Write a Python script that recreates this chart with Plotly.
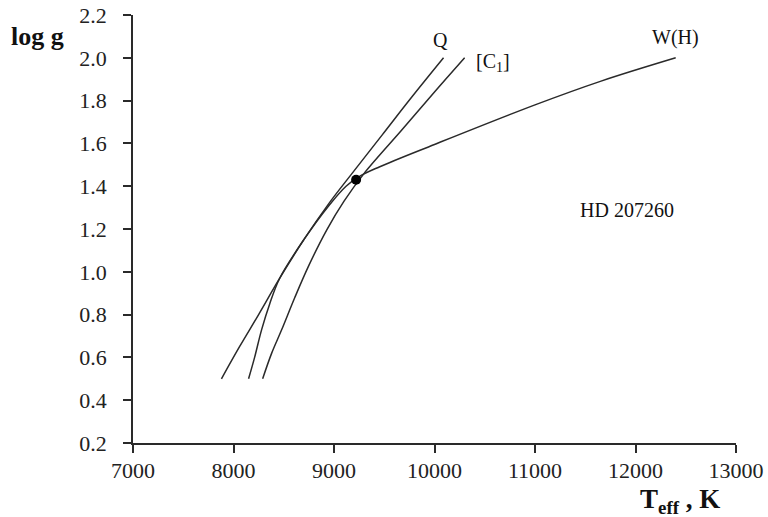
import plotly.graph_objects as go

# Q locus
q_teff = [7880, 8060, 8250, 8460, 8700, 8950, 9180, 9480, 9780, 10090]
q_logg = [0.50, 0.65, 0.80, 0.97, 1.15, 1.32, 1.46, 1.64, 1.82, 2.00]
# [c1] locus
c1_teff = [8290, 8380, 8480, 8610, 8750, 8927, 9100, 9300, 9670, 10000, 10300]
c1_logg = [0.50, 0.62, 0.73, 0.88, 1.03, 1.195, 1.33, 1.46, 1.66, 1.84, 2.00]
# W(H) locus
wh_teff = [8150, 8210, 8280, 8360, 8460, 8700, 8950, 9120, 9250, 9450, 10000, 11000, 11650, 12400]
wh_logg = [0.50, 0.60, 0.73, 0.85, 0.97, 1.15, 1.31, 1.40, 1.445, 1.49, 1.595, 1.78, 1.89, 2.00]
# solution point
dot_teff = [9220]
dot_logg = [1.43]

x_ticks = [7000, 8000, 9000, 10000, 11000, 12000, 13000]
y_ticks = [0.2, 0.4, 0.6, 0.8, 1.0, 1.2, 1.4, 1.6, 1.8, 2.0, 2.2]

LC = "#2a2a2a"
SERIF = "Liberation Serif, Times New Roman, serif"

fig = go.Figure()
for tx, gy in [(q_teff, q_logg), (c1_teff, c1_logg), (wh_teff, wh_logg)]:
    fig.add_trace(go.Scatter(x=tx, y=gy, mode="lines",
                             line=dict(color=LC, width=1.5, shape="spline", smoothing=1.0),
                             showlegend=False, hoverinfo="skip"))
fig.add_trace(go.Scatter(x=dot_teff, y=dot_logg, mode="markers",
                         marker=dict(color="black", size=10), showlegend=False))

ann_font = dict(family=SERIF, size=20, color="#111")
fig.add_annotation(x=10055, y=2.083, text="Q", showarrow=False, font=ann_font)
fig.add_annotation(x=10580, y=1.976, text="[C<sub>1</sub>]", showarrow=False, font=ann_font)
fig.add_annotation(x=12393, y=2.097, text="W(H)", showarrow=False, font=ann_font)
fig.add_annotation(x=11912, y=1.289, text="HD 207260", showarrow=False, font=ann_font)

fig.add_annotation(xref="paper", yref="paper", x=-0.159, y=0.949,
                   xanchor="center", yanchor="middle",
                   text="<b>log g</b>", showarrow=False,
                   font=dict(family=SERIF, size=26, color="#111"))
fig.add_annotation(xref="paper", yref="paper", x=0.907, y=-0.135,
                   xanchor="center", yanchor="middle",
                   text="<b>T<sub>eff</sub> , K</b>", showarrow=False,
                   font=dict(family=SERIF, size=27, color="#111"))

fig.update_layout(
    width=768, height=517,
    margin=dict(l=133, r=32, t=15, b=74, autoexpand=False),
    paper_bgcolor="white", plot_bgcolor="white",
    font=dict(family=SERIF, size=22, color="#222"),
)
fig.update_xaxes(range=[7000, 13000], tickvals=x_ticks, ticktext=[str(v) for v in x_ticks],
                 showgrid=False, zeroline=False, showline=True, linecolor=LC, linewidth=1.5,
                 ticks="outside", ticklen=8, tickwidth=1.5, tickcolor=LC,
                 ticklabelstandoff=-1, automargin=False, ticklabeloverflow="allow")
fig.update_yaxes(range=[0.2, 2.2], tickvals=y_ticks, ticktext=[f"{v:.1f}" for v in y_ticks],
                 showgrid=False, zeroline=False, showline=True, linecolor=LC, linewidth=1.5,
                 ticks="outside", ticklen=8, tickwidth=1.5, tickcolor=LC,
                 ticklabelstandoff=12, automargin=False, ticklabeloverflow="allow")

# remove the default page margin so the 768x517 figure fills the window exactly
fig.write_html("out.html", config={"displayModeBar": False},
               post_script="document.body.style.margin='0';document.body.style.overflow='hidden';")
